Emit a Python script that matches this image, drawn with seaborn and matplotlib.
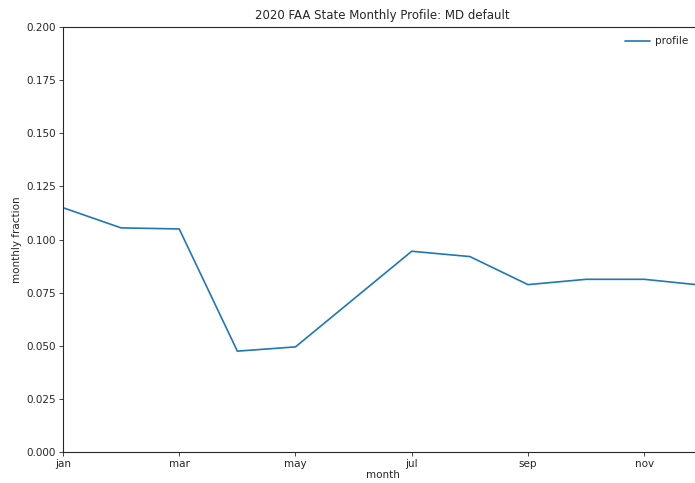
import matplotlib
matplotlib.use('Agg')
import matplotlib.pyplot as plt
import seaborn as sns
import pandas as pd

# monthly profile values
months = ["jan", "feb", "mar", "apr", "may", "jun",
          "jul", "aug", "sep", "oct", "nov", "dec"]
fraction = [0.1150, 0.1055, 0.1050, 0.0475, 0.0495, 0.0720,
            0.0945, 0.0920, 0.0788, 0.0813, 0.0813, 0.0785]
y_ticks = [0.000, 0.025, 0.050, 0.075, 0.100, 0.125, 0.150, 0.175, 0.200]

df = pd.DataFrame({"month": months, "monthly fraction": fraction})
df["idx"] = range(len(months))

sns.set_style("ticks")
plt.rcParams['font.family'] = ['DejaVu Sans']

fig = plt.figure(figsize=(6.95, 4.83), dpi=100)
# axes run slightly past the right edge, as in the cropped reference
ax = fig.add_axes([0.0906, 0.064, 0.92, 0.880])

sns.lineplot(data=df, x="idx", y="monthly fraction", ax=ax,
             color="#1f77b4", linewidth=1.2, label="profile")

ax.set_xlim(0, len(months) - 1)
ax.set_ylim(0, 0.2)
ax.set_xticks(df["idx"][::2])
ax.set_xticklabels(months[::2], fontsize=7.5)
ax.set_yticks(y_ticks)
ax.set_yticklabels([f"{t:.3f}" for t in y_ticks], fontsize=7.5)
ax.set_xlabel("month", fontsize=7.5, labelpad=1)
ax.set_ylabel("monthly fraction", fontsize=7.5, labelpad=3)
ax.set_title("2020 FAA State Monthly Profile: MD default", fontsize=8.5)
ax.tick_params(length=3, width=0.6, pad=2)
for s in ax.spines.values():
    s.set_linewidth(0.8)
# keep the legend text fully inside the figure
ax.legend(loc="upper right", bbox_to_anchor=(0.993, 1.0), frameon=False,
          fontsize=7.5, handlelength=2.4, handletextpad=0.5)

fig.savefig("out.png", dpi=100)
plt.close(fig)
